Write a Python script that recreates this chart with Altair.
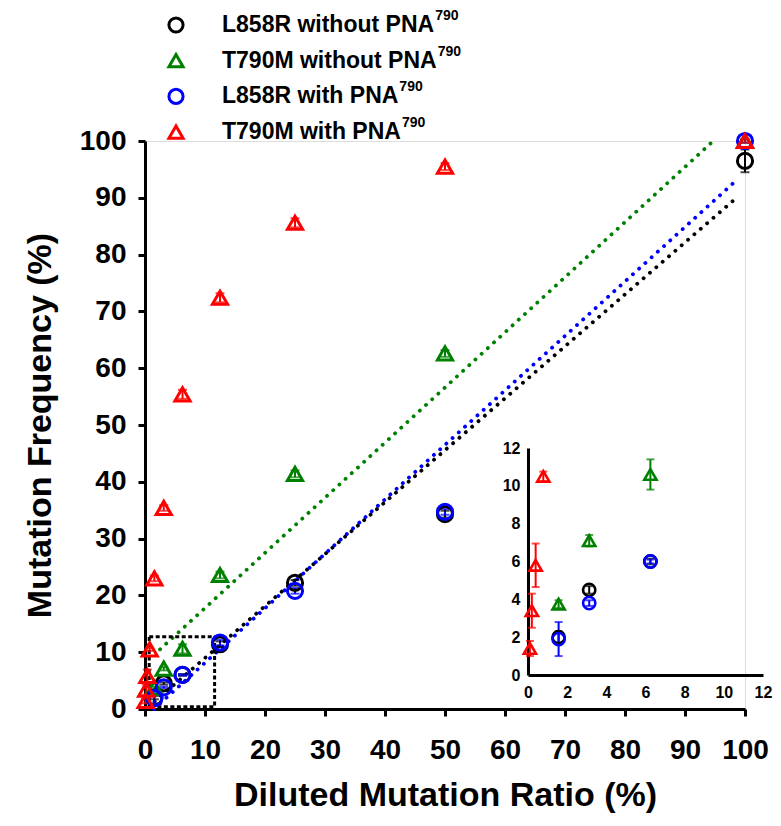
import altair as alt
import pandas as pd

# ---------------- data ----------------
series_labels = ["L858R without PNA", "T790M without PNA", "L858R with PNA", "T790M with PNA"]
series_sup = ["790", "790", "790", "790"]
series_names = [l + s for l, s in zip(series_labels, series_sup)]
series_colors = ["#000000", "#008000", "#0000ff", "#ff0000"]
series_shapes = ["circle", "triangle-up", "circle", "triangle-up"]

ratio_std = [100, 50, 25, 12.5, 6.25, 3.125, 1.5625]
ratio_red = [100, 50, 25, 12.5, 6.25, 3.125, 1.5625, 0.78125, 0.390625, 0.1953125, 0.09765625]

l858r_without = [96.5, 34.3, 22.2, 11.4, 6.0, 4.5, 2.0]
l858r_without_err = [2.0, 0.6, 0.5, 0.5, 0.15, 0.2, 0.3]
t790m_without = [100.0, 62.6, 41.4, 23.6, 10.6, 7.1, 3.75]
t790m_without_err = [0.3, 0.6, 0.6, 0.6, 0.8, 0.3, 0.2]
l858r_with = [100.0, 34.7, 20.8, 11.7, 6.0, 3.8, 1.9]
l858r_with_err = [0.3, 0.5, 0.5, 0.5, 0.1, 0.15, 0.9]
t790m_with = [100.0, 95.5, 85.6, 72.4, 55.4, 35.4, 23.0, 10.5, 5.8, 3.4, 1.4]
t790m_with_err = [0.3, 0.6, 0.8, 0.8, 0.8, 0.5, 0.5, 0.25, 1.15, 0.9, 0.4]

# dotted trend lines (start / end in data units)
trend_series = [0, 1, 2]
trend_x0 = [1.6, 2.5, 1.5]
trend_y0 = [1.3, 10.5, 0.0]
trend_x1 = [98.8, 94.7, 98.8]
trend_y1 = [90.2, 100.0, 93.3]

# dashed zoom box
box_x = [0.7, 11.6]
box_y = [0.4, 12.7]

main_ticks = list(range(0, 101, 10))
inset_ticks = list(range(0, 13, 2))

# ---------------- tables ----------------
rows = []
for si, (xs_, ys_, es_) in enumerate([
        (ratio_std, l858r_without, l858r_without_err),
        (ratio_std, t790m_without, t790m_without_err),
        (ratio_std, l858r_with, l858r_with_err),
        (ratio_red, t790m_with, t790m_with_err)]):
    for x, y, e in zip(xs_, ys_, es_):
        rows.append({"series": series_names[si], "hex": series_colors[si],
                     "ratio": x, "freq": y, "lo": y - e, "hi": y + e})
df = pd.DataFrame(rows)

trend_rows = []
for i, s in enumerate(trend_series):
    trend_rows.append({"series": series_names[s], "hex": series_colors[s], "ratio": trend_x0[i], "freq": trend_y0[i]})
    trend_rows.append({"series": series_names[s], "hex": series_colors[s], "ratio": trend_x1[i], "freq": trend_y1[i]})
trend_df = pd.DataFrame(trend_rows)

box_df = pd.DataFrame([{"x": box_x[0], "x2": box_x[1], "y": box_y[0], "y2": box_y[1]}])

FONT = "Liberation Sans"
W, H = 600, 568

# ---------------- legend (layout helper: Arial/Liberation Bold advance widths) ----------------
ARIAL_BOLD = {"L": 611, "8": 556, "5": 556, "R": 722, " ": 278, "w": 778, "i": 278, "t": 333,
              "h": 611, "o": 611, "u": 611, "P": 667, "N": 722, "A": 722, "T": 611, "7": 556,
              "9": 556, "0": 556, "M": 833}
LEG_FS = 23


def text_w(s, fs):
    return sum(ARIAL_BOLD.get(c, 600) for c in s) * fs / 1000.0


legend_df = pd.DataFrame({
    "row": list(range(4)),
    "label": series_labels,
    "sup": series_sup,
    "hex": series_colors,
    "shape": series_shapes,
    "lw": [text_w(l, LEG_FS) for l in series_labels],
})

leg_base = alt.Chart(legend_df).transform_calculate(
    py="-116 + 35.7 * datum.row", sx="31", lx="77", supx="78 + datum.lw")
leg_sym = leg_base.mark_point(filled=False, strokeWidth=3, size=200, opacity=1).encode(
    x=alt.X("sx:Q", scale=None), y=alt.Y("py:Q", scale=None),
    color=alt.Color("hex:N", scale=None), shape=alt.Shape("shape:N", scale=None))
leg_txt = leg_base.mark_text(align="left", baseline="middle", font=FONT, fontWeight="bold",
                             fontSize=LEG_FS, color="black").encode(
    x=alt.X("lx:Q", scale=None), y=alt.Y("py:Q", scale=None), text="label:N")
leg_sup = leg_base.mark_text(align="left", baseline="middle", font=FONT, fontWeight="bold",
                             fontSize=14, color="black", dy=-9).encode(
    x=alt.X("supx:Q", scale=None), y=alt.Y("py:Q", scale=None), text="sup:N")
legend_layer = alt.layer(leg_sym, leg_txt, leg_sup)

# ---------------- main scales / axes ----------------
mx_scale = alt.Scale(domain=[0, 100], nice=False, zero=False)
my_scale = alt.Scale(domain=[0, 100], nice=False, zero=False)
mx_axis = alt.Axis(values=main_ticks, title="Diluted Mutation Ratio (%)", grid=False,
                   domainWidth=3, domainColor="black", tickWidth=3, tickSize=7, tickColor="black",
                   labelFont=FONT, labelFontWeight="bold", labelFontSize=28, labelColor="black",
                   labelPadding=20, labelFlush=False, labelOverlap=False,
                   titleFont=FONT, titleFontWeight="bold", titleFontSize=34, titleColor="black",
                   titlePadding=14)
my_axis = alt.Axis(values=main_ticks, title="Mutation Frequency (%)", grid=False,
                   domainWidth=3, domainColor="black", tickWidth=3, tickSize=7, tickColor="black",
                   labelFont=FONT, labelFontWeight="bold", labelFontSize=28, labelColor="black",
                   labelPadding=12, labelFlush=False, labelOverlap=False,
                   titleFont=FONT, titleFontWeight="bold", titleFontSize=34, titleColor="black",
                   titlePadding=22)


def MX(field):
    return alt.X(field, type="quantitative", scale=mx_scale, axis=mx_axis)


def MY(field):
    return alt.Y(field, type="quantitative", scale=my_scale, axis=my_axis)


color_enc = alt.Color("series:N", scale=alt.Scale(domain=series_names, range=series_colors), legend=None)
shape_enc = alt.Shape("series:N", scale=alt.Scale(domain=series_names, range=series_shapes), legend=None)
hex_enc = alt.Color("hex:N", scale=None)

trend = alt.Chart(trend_df).mark_line(strokeDash=[0.1, 8.3], strokeCap="round", strokeWidth=3.8).encode(
    x=MX("ratio"), y=MY("freq"), color=hex_enc, detail="series:N")

box = alt.Chart(box_df).mark_rect(fillOpacity=0, stroke="black", strokeWidth=3, strokeDash=[4, 2.5]).encode(
    x=MX("x"), x2="x2", y=MY("y"), y2="y2")

err_rule = alt.Chart(df).mark_rule(strokeWidth=2).encode(x=MX("ratio"), y=MY("lo"), y2="hi", color=hex_enc)
err_lo = alt.Chart(df).mark_tick(orient="horizontal", size=9, thickness=2).encode(x=MX("ratio"), y=MY("lo"), color=hex_enc)
err_hi = alt.Chart(df).mark_tick(orient="horizontal", size=9, thickness=2).encode(x=MX("ratio"), y=MY("hi"), color=hex_enc)

pts = alt.Chart(df).mark_point(filled=False, strokeWidth=3, size=230, opacity=1).encode(
    x=MX("ratio"), y=MY("freq"), color=color_enc, shape=shape_enc)

main = alt.layer(trend, box, err_rule, err_lo, err_hi, pts)

# ---------------- inset ----------------
ix_scale = alt.Scale(domain=[0, 12], range=[383, 618], nice=False, zero=False)
iy_scale = alt.Scale(domain=[0, 12], range=[534, 307], nice=False, zero=False)
ix_axis = alt.Axis(values=inset_ticks, title=None, grid=False, orient="bottom", offset=-34,
                   ticks=False, domainWidth=3, domainColor="black",
                   labelFont=FONT, labelFontWeight="bold", labelFontSize=16, labelColor="black",
                   labelPadding=9, labelFlush=False, labelOverlap=False)
iy_axis = alt.Axis(values=inset_ticks, title=None, grid=False, orient="left", offset=-383,
                   ticks=False, domainWidth=3, domainColor="black",
                   labelFont=FONT, labelFontWeight="bold", labelFontSize=16, labelColor="black",
                   labelPadding=8, labelFlush=False, labelOverlap=False)


def IX(field):
    return alt.X(field, type="quantitative", scale=ix_scale, axis=ix_axis)


def IY(field):
    return alt.Y(field, type="quantitative", scale=iy_scale, axis=iy_axis)


inset_base = alt.Chart(df).transform_filter("datum.ratio < 12 && datum.freq < 12")
i_rule = inset_base.mark_rule(strokeWidth=2).encode(x=IX("ratio"), y=IY("lo"), y2="hi", color=hex_enc)
i_lo = inset_base.mark_tick(orient="horizontal", size=8, thickness=2).encode(x=IX("ratio"), y=IY("lo"), color=hex_enc)
i_hi = inset_base.mark_tick(orient="horizontal", size=8, thickness=2).encode(x=IX("ratio"), y=IY("hi"), color=hex_enc)
i_pts = inset_base.mark_point(filled=False, strokeWidth=2.6, size=150, opacity=1).encode(
    x=IX("ratio"), y=IY("freq"), color=color_enc, shape=shape_enc)

inset = alt.layer(i_rule, i_lo, i_hi, i_pts)

chart = alt.layer(main, inset, legend_layer).resolve_scale(x="independent", y="independent").properties(
    width=W, height=H,
    padding={"left": 137, "top": 133, "right": 28, "bottom": 109},
    autosize=alt.AutoSizeParams(type="none"),
).configure_view(stroke=None).configure(background="white")

chart.save("out.html", embed_options={"renderer": "svg", "actions": False})
